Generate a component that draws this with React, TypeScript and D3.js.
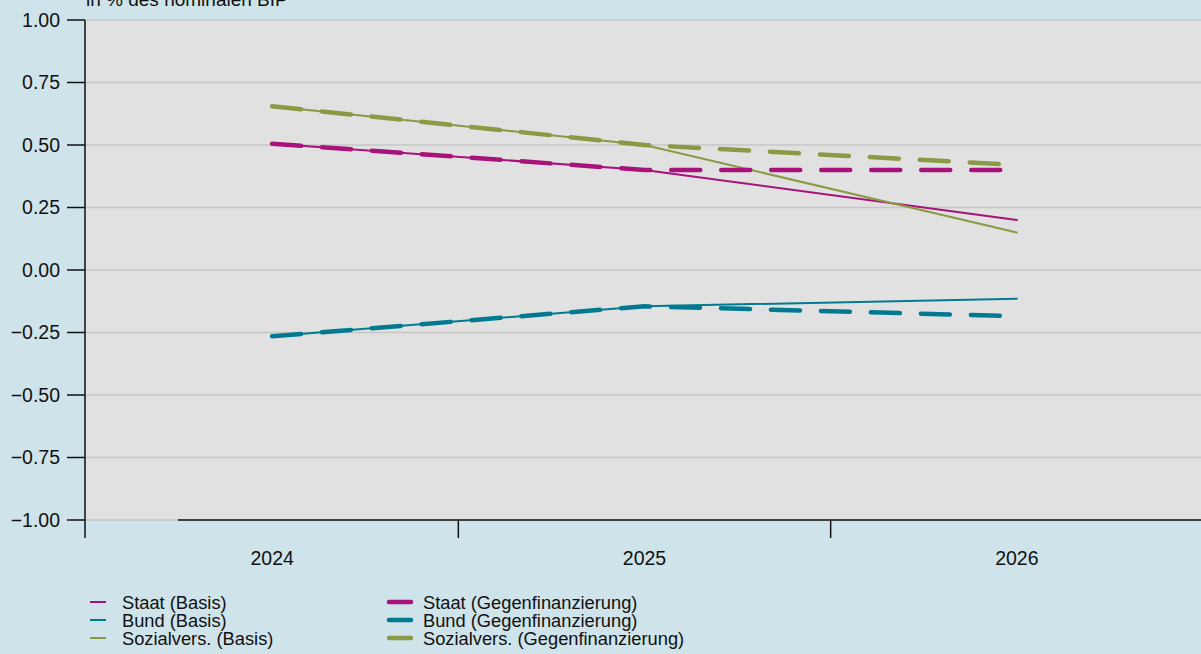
import React from "react";
import * as d3 from "d3";

const years = ["2024", "2025", "2026"];
const staatBasis = [0.505, 0.4, 0.2];
const staatGegen = [0.505, 0.4, 0.4];
const bundBasis = [-0.265, -0.145, -0.115];
const bundGegen = [-0.265, -0.145, -0.185];
const sozBasis = [0.655, 0.5, 0.15];
const sozGegen = [0.655, 0.5, 0.42];
const yTicks = [-1, -0.75, -0.5, -0.25, 0, 0.25, 0.5, 0.75, 1];

const C_STAAT = "#a8127b";
const C_BUND = "#017a91";
const C_SOZ = "#8a9943";

const series = [
  { name: "Staat (Basis)", values: staatBasis, color: C_STAAT, dashed: false },
  { name: "Bund (Basis)", values: bundBasis, color: C_BUND, dashed: false },
  { name: "Sozialvers. (Basis)", values: sozBasis, color: C_SOZ, dashed: false },
  { name: "Staat (Gegenfinanzierung)", values: staatGegen, color: C_STAAT, dashed: true },
  { name: "Bund (Gegenfinanzierung)", values: bundGegen, color: C_BUND, dashed: true },
  { name: "Sozialvers. (Gegenfinanzierung)", values: sozGegen, color: C_SOZ, dashed: true },
];

export default function App() {
  const W = 1201, H = 654;
  const left = 86, right = 1203, top = 20, bottom = 520;
  const x = d3.scaleBand<string>().domain(years).range([left, right]);
  const y = d3.scaleLinear().domain([-1, 1]).range([bottom, top]);
  const line = d3
    .line<number>()
    .x((_, i) => (x(years[i]) as number) + x.bandwidth() / 2)
    .y((d) => y(d));
  const font = "Liberation Sans, Arial, sans-serif";
  const fmt = (v: number) => (v < 0 ? "\u2212" : "") + Math.abs(v).toFixed(2);
  const boundaries = [left, ...years.slice(1).map((yy) => x(yy) as number)];
  const basis = series.filter((s) => !s.dashed);
  const gegen = series.filter((s) => s.dashed);
  return (
    <svg width={W} height={H} style={{ position: "absolute", left: 0, top: 0, display: "block" }} fontFamily={font}>
      <rect x={0} y={0} width={W} height={H} fill="#cfe3ea" />
      <rect x={left} y={top} width={W - left} height={bottom - top} fill="#e1e1e1" />
      {yTicks.map((t) => (
        <line key={"g" + t} x1={left} x2={W} y1={y(t)} y2={y(t)} stroke="#c6c6c6" strokeWidth={1.5} />
      ))}
      <text x={left} y={6} fontSize={19} fill="#111">in % des nominalen BIP</text>
      {series.map((s) => (
        <path
          key={s.name}
          d={line(s.values) || ""}
          fill="none"
          stroke={s.color}
          strokeWidth={s.dashed ? 4.5 : 2}
          strokeDasharray={s.dashed ? "29 21" : undefined}
          strokeLinecap="round"
          strokeLinejoin="round"
        />
      ))}
      <line x1={178} x2={W} y1={bottom} y2={bottom} stroke="#111" strokeWidth={1.5} />
      <line x1={left - 1} x2={left - 1} y1={top} y2={bottom + 18} stroke="#111" strokeWidth={1.5} />
      {yTicks.map((t) => (
        <g key={"t" + t}>
          <line x1={left - 19} x2={left - 1} y1={y(t)} y2={y(t)} stroke="#111" strokeWidth={1.5} />
          <text x={60} y={y(t)} dy="0.35em" textAnchor="end" fontSize={19.5} fill="#111">{fmt(t)}</text>
        </g>
      ))}
      {boundaries.slice(1).map((b) => (
        <line key={"xb" + b} x1={b} x2={b} y1={bottom} y2={bottom + 18} stroke="#111" strokeWidth={1.5} />
      ))}
      {years.map((yy) => (
        <text key={yy} x={(x(yy) as number) + x.bandwidth() / 2} y={565} textAnchor="middle" fontSize={19.5} fill="#111">{yy}</text>
      ))}
      {basis.map((s, i) => (
        <g key={"lb" + s.name} transform={`translate(0, ${602 + i * 18})`}>
          <line x1={90} x2={106} y1={0} y2={0} stroke={s.color} strokeWidth={2} />
          <text x={122} y={0} dy="0.36em" fontSize={18.3} fill="#111">{s.name}</text>
        </g>
      ))}
      {gegen.map((s, i) => (
        <g key={"lg" + s.name} transform={`translate(0, ${602 + i * 18})`}>
          <line x1={389} x2={411} y1={0} y2={0} stroke={s.color} strokeWidth={4.5} strokeLinecap="round" />
          <text x={423} y={0} dy="0.36em" fontSize={18.3} fill="#111">{s.name}</text>
        </g>
      ))}
    </svg>
  );
}
